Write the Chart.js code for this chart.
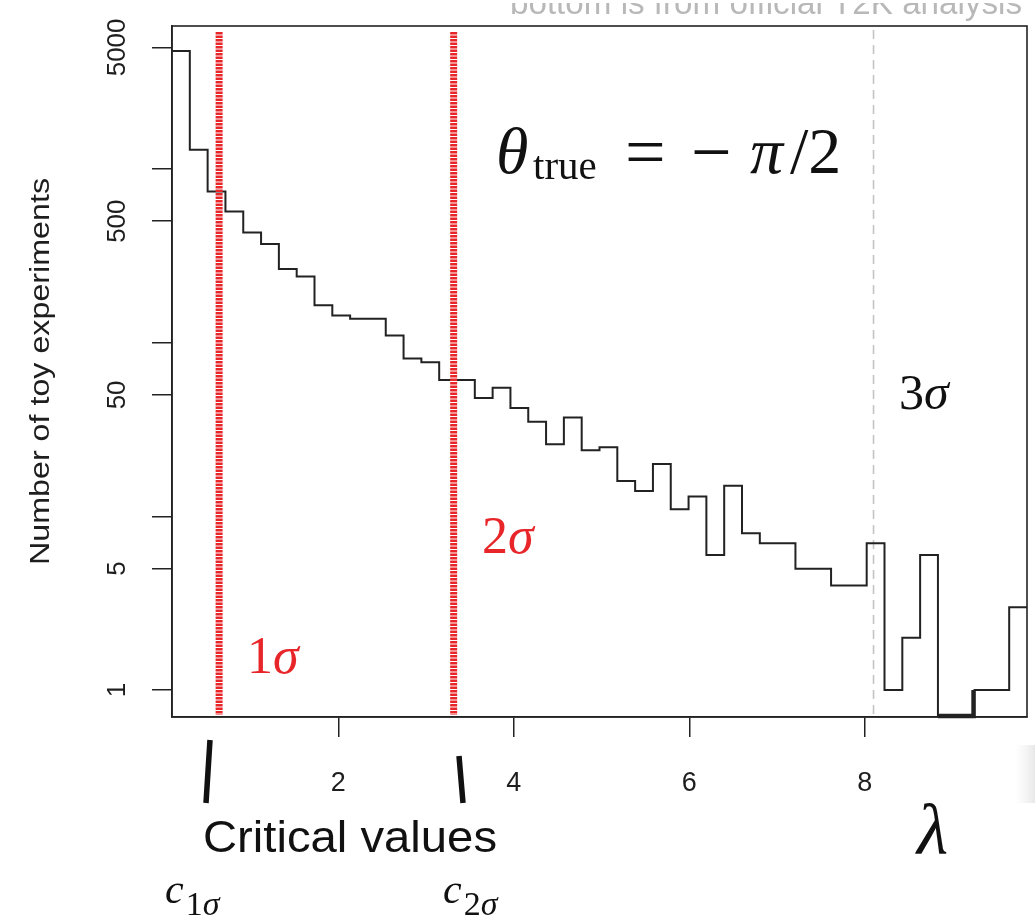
<!DOCTYPE html>
<html>
<head>
<meta charset="utf-8">
<script src="https://cdn.jsdelivr.net/npm/chart.js@4.4.1/dist/chart.umd.min.js"></script>
<style>
  html, body { margin: 0; padding: 0; background: #fff; }
  #wrap { width: 1035px; height: 920px; }
</style>
</head>
<body>
<div id="wrap"><canvas id="histChart" width="1035" height="920"></canvas></div>
<script>
// counts of toy experiments per lambda bin
var counts = [4770, 1290, 740, 568, 430, 369, 265, 240, 164, 143,
              137, 137, 110, 81, 77, 61, 61, 48, 55, 42,
              35, 26, 37, 24, 25, 16, 14, 20, 11, 13,
              6, 15, 8, 7, 7, 5, 5, 4, 4, 7,
              1, 2, 6, 0, 0, 1, 1, 3];
var binStart = 0.105;
var binWidth = 0.203;

var xTicks = [2, 4, 6, 8];
var yTicks = [1, 5, 10, 50, 100, 500, 1000, 5000];
var yLabels = ["1", "5", "", "50", "", "500", "", "5000"];

var critValues = [0.642, 3.315];   // c_1sigma, c_2sigma
var threeSigma = 8.10;
var yFloor = 0.71, yTop = 6640;

// empty bins sit on the floor of the log axis, like R does
var points = counts.map(function (c, i) {
    return { x: binStart + i * binWidth, y: c > 0 ? c : yFloor };
});
points.push({ x: binStart + counts.length * binWidth, y: counts[counts.length - 1] });

var SERIF = "'Liberation Serif', 'DejaVu Serif', serif";
var SANS = "'Liberation Sans', Arial, sans-serif";

function fitText(ctx, txt, x, y, w) {
    var m = ctx.measureText(txt).width;
    ctx.save();
    ctx.translate(x, y);
    ctx.scale(w / m, 1);
    ctx.fillText(txt, 0, 0);
    ctx.restore();
}

var decor = {
    id: 'decor',
    beforeDatasetsDraw: function (chart) {
        var ctx = chart.ctx, a = chart.chartArea, xs = chart.scales.x;
        var gx = xs.getPixelForValue(threeSigma);
        ctx.save();
        ctx.strokeStyle = '#c4c4c4';
        ctx.lineWidth = 1.6;
        ctx.setLineDash([9, 6]);
        ctx.beginPath();
        ctx.moveTo(gx, a.top + 4);
        ctx.lineTo(gx, a.bottom);
        ctx.stroke();
        ctx.restore();
    },
    afterDraw: function (chart) {
        var ctx = chart.ctx, a = chart.chartArea;
        var xs = chart.scales.x, ys = chart.scales.y;

        // box
        ctx.save();
        ctx.strokeStyle = '#222';
        ctx.lineWidth = 1.6;
        ctx.strokeRect(a.left, a.top, a.right - a.left, a.bottom - a.top);

        // rotated y tick labels
        ctx.fillStyle = '#1e1e1e';
        ctx.font = '26px ' + SANS;
        ctx.textAlign = 'center';
        ctx.textBaseline = 'middle';
        yTicks.forEach(function (v, i) {
            if (!yLabels[i]) return;
            ctx.save();
            ctx.translate(118, ys.getPixelForValue(v));
            ctx.rotate(-Math.PI / 2);
            ctx.fillText(yLabels[i], 0, 0);
            ctx.restore();
        });

        // y title
        ctx.save();
        ctx.translate(49, 565);
        ctx.rotate(-Math.PI / 2);
        ctx.font = '27px ' + SANS;
        ctx.textAlign = 'left';
        ctx.textBaseline = 'alphabetic';
        fitText(ctx, 'Number of toy experiments', 0, 0, 387);
        ctx.restore();

        // red critical value lines
        ctx.strokeStyle = '#e8262a';
        ctx.lineWidth = 7;
        ctx.setLineDash([2.5, 1]);
        critValues.forEach(function (c) {
            var px = xs.getPixelForValue(c);
            ctx.beginPath();
            ctx.moveTo(px, a.top + 6);
            ctx.lineTo(px, a.bottom - 2);
            ctx.stroke();
        });
        ctx.setLineDash([]);

        // sigma labels
        ctx.textAlign = 'left';
        ctx.textBaseline = 'alphabetic';
        function sigma(num, x, y, col, size) {
            ctx.fillStyle = col;
            ctx.font = size + 'px ' + SERIF;
            ctx.fillText(num, x, y);
            var w = ctx.measureText(num).width;
            ctx.font = 'italic ' + size + 'px ' + SERIF;
            ctx.fillText('\u03c3', x + w, y);
        }
        sigma('1', 247, 673, '#e8262a', 52);
        sigma('2', 482, 553, '#e8262a', 52);
        sigma('3', 899, 409, '#111', 50);

        // theta_true = -pi/2
        ctx.fillStyle = '#111';
        ctx.font = 'italic 66px ' + SERIF;
        ctx.fillText('\u03b8', 496, 173);
        ctx.font = '41px ' + SERIF;
        ctx.fillText('true', 533, 179);
        ctx.font = '72px ' + SERIF;
        ctx.fillText('=', 625, 176);
        ctx.fillText('\u2212', 691, 176);
        ctx.font = 'italic 66px ' + SERIF;
        ctx.fillText('\u03c0', 750, 173);
        ctx.font = '66px ' + SERIF;
        ctx.fillText('/2', 790, 173);

        // hand-drawn critical value markers
        ctx.strokeStyle = '#111';
        ctx.lineWidth = 5.5;
        ctx.lineCap = 'butt';
        ctx.beginPath();
        ctx.moveTo(210, 740); ctx.lineTo(206, 803);
        ctx.moveTo(459, 756); ctx.lineTo(463, 803);
        ctx.stroke();

        // Critical values / lambda / c labels
        ctx.fillStyle = '#111';
        ctx.font = '45px ' + SANS;
        fitText(ctx, 'Critical values', 203, 852, 294);
        ctx.font = 'italic 72px ' + SERIF;
        ctx.fillText('\u03bb', 917, 854);

        [[165, 903, '1'], [443, 903, '2']].forEach(function (c) {
            ctx.font = 'italic 42px ' + SERIF;
            ctx.fillText('c', c[0], c[1]);
            var w = ctx.measureText('c').width;
            ctx.font = '34px ' + SERIF;
            ctx.fillText(c[2], c[0] + w + 2, c[1] + 12);
            var w2 = ctx.measureText(c[2]).width;
            ctx.font = 'italic 34px ' + SERIF;
            ctx.fillText('\u03c3', c[0] + w + 2 + w2, c[1] + 12);
        });

        // cut-off caption at the top
        ctx.save();
        ctx.beginPath();
        ctx.rect(480, 3, 555, 20);
        ctx.clip();
        ctx.fillStyle = '#b8b8b8';
        ctx.font = '33px ' + SANS;
        fitText(ctx, 'bottom is from official T2K analysis', 510, 14, 512);
        ctx.restore();

        // faint shadow at lower right
        var g = ctx.createLinearGradient(1015, 0, 1035, 0);
        g.addColorStop(0, 'rgba(240,240,240,0)');
        g.addColorStop(1, 'rgba(232,232,232,1)');
        ctx.fillStyle = g;
        ctx.fillRect(1015, 745, 20, 58);
        ctx.restore();
    }
};

var ctx = document.getElementById('histChart');
var myChart = new Chart(ctx, {
    type: 'line',
    data: {
        datasets: [{
            label: 'toys',
            data: points,
            stepped: 'before',
            borderColor: '#222',
            borderWidth: 2,
            borderJoinStyle: 'miter',
            pointRadius: 0,
            fill: false,
            clip: false,
            segment: {
                borderWidth: function (c) { return counts[c.p0DataIndex] === 0 ? 4.5 : 2; }
            }
        }]
    },
    options: {
        responsive: false,
        animation: false,
        layout: { padding: { left: 0, top: 26, right: 8, bottom: 0 } },
        plugins: { legend: { display: false }, tooltip: { enabled: false } },
        scales: {
            x: {
                type: 'linear',
                min: binStart,
                max: binStart + counts.length * binWidth,
                afterBuildTicks: function (s) { s.ticks = xTicks.map(function (v) { return { value: v }; }); },
                afterFit: function (s) { s.height = 203; },
                ticks: {
                    color: '#1e1e1e',
                    font: { family: SANS, size: 27 },
                    padding: 30,
                    maxRotation: 0,
                    callback: function (v) { return String(v); }
                },
                grid: { drawOnChartArea: false, drawTicks: true, tickLength: 20, color: '#222', lineWidth: 1.5 },
                border: { display: true, color: '#222', width: 1.6 }
            },
            y: {
                type: 'logarithmic',
                min: yFloor,
                max: yTop,
                afterBuildTicks: function (s) { s.ticks = yTicks.map(function (v) { return { value: v }; }); },
                afterFit: function (s) { s.width = 172; },
                ticks: { display: false },
                grid: { drawOnChartArea: false, drawTicks: true, tickLength: 20, color: '#222', lineWidth: 1.5 },
                border: { display: true, color: '#222', width: 1.6 }
            }
        }
    },
    plugins: [decor]
});
</script>
</body>
</html>
